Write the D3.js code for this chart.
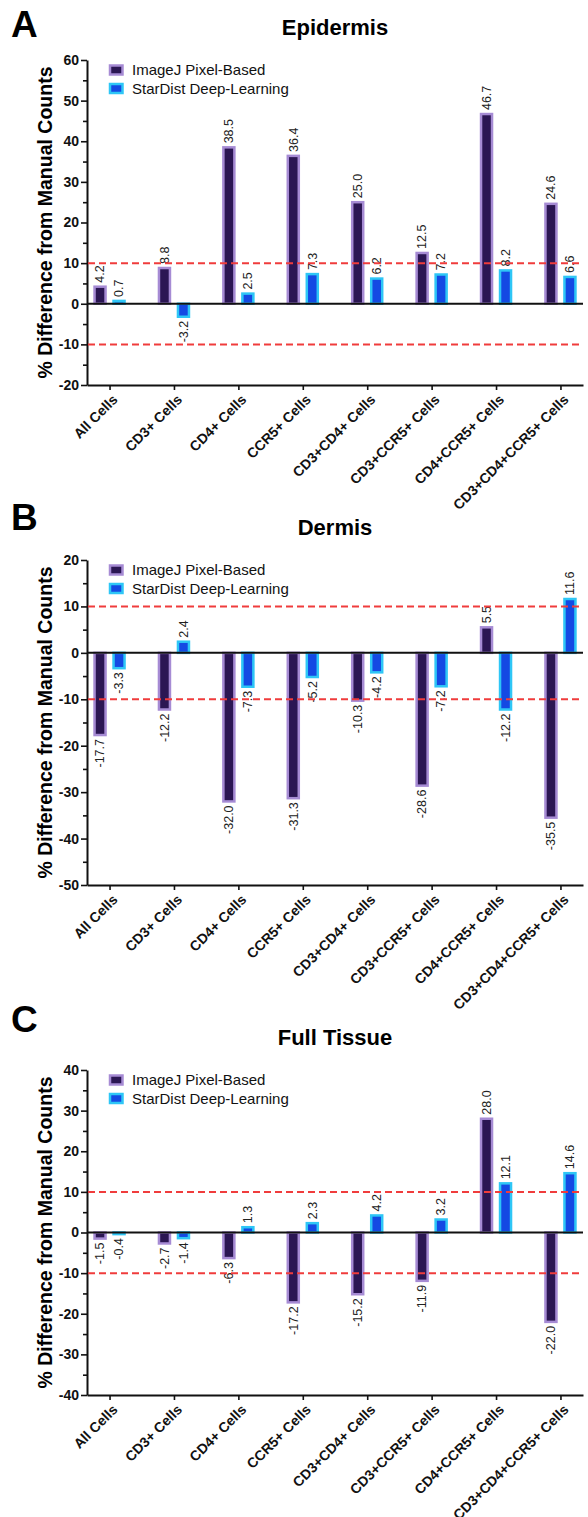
<!DOCTYPE html>
<html>
<head>
<meta charset="utf-8">
<script src="https://cdn.jsdelivr.net/npm/d3@7"></script>
<style>
	body { margin: 0; background: #fff; }
	svg { display: block; font-family: Arial, 'Liberation Sans', sans-serif; }
</style>
</head>
<body>
<div id="chart"></div>
<script>
const categories = ['All Cells', 'CD3+ Cells', 'CD4+ Cells', 'CCR5+ Cells', 'CD3+CD4+ Cells', 'CD3+CCR5+ Cells', 'CD4+CCR5+ Cells', 'CD3+CD4+CCR5+ Cells'];
const seriesNames = ['ImageJ Pixel-Based', 'StarDist Deep-Learning'];

const epidermisImageJ = [4.2, 8.8, 38.5, 36.4, 25.0, 12.5, 46.7, 24.6];
const epidermisStarDist = [0.7, -3.2, 2.5, 7.3, 6.2, 7.2, 8.2, 6.6];
const epidermisTicks = [-20, -10, 0, 10, 20, 30, 40, 50, 60];

const dermisImageJ = [-17.7, -12.2, -32.0, -31.3, -10.3, -28.6, 5.5, -35.5];
const dermisStarDist = [-3.3, 2.4, -7.3, -5.2, -4.2, -7.2, -12.2, 11.6];
const dermisTicks = [-50, -40, -30, -20, -10, 0, 10, 20];

const fullImageJ = [-1.5, -2.7, -6.3, -17.2, -15.2, -11.9, 28.0, -22.0];
const fullStarDist = [-0.4, -1.4, 1.3, 2.3, 4.2, 3.2, 12.1, 14.6];
const fullTicks = [-40, -30, -20, -10, 0, 10, 20, 30, 40];

const thresholds = [10, -10];

const COLORS = {
	fill: ['#2b1653', '#1449e3'],
	stroke: ['#a68bd4', '#2ec6f6'],
	red: '#f03c3c',
	text: '#111'
};
const LEFT = 87;
const RIGHT = 583;
const PLOT_H = 325;
const BAR_W = 11;
const BAR_OFF = 9.5;

var svg = d3.select('#chart').append('svg')
	.attr('width', 588)
	.attr('height', 1517);

svg.append('rect').attr('width', 588).attr('height', 1517).attr('fill', '#fff');

drawPanel({ letter: 'A', letterY: 37, title: 'Epidermis', top: 60, ticks: epidermisTicks, a: epidermisImageJ, b: epidermisStarDist });
drawPanel({ letter: 'B', letterY: 530, title: 'Dermis', top: 560, ticks: dermisTicks, a: dermisImageJ, b: dermisStarDist });
drawPanel({ letter: 'C', letterY: 1032, title: 'Full Tissue', top: 1070, ticks: fullTicks, a: fullImageJ, b: fullStarDist });

function drawPanel (p) {
	var g = svg.append('g');
	var top = p.top;
	var bottom = top + PLOT_H;
	var lo = d3.min(p.ticks), hi = d3.max(p.ticks);

	var y = d3.scaleLinear().domain([lo, hi]).range([bottom, top]);
	var x = d3.scalePoint().domain(categories).range([LEFT, RIGHT]).padding(0.35);

	g.append('text')
		.attr('x', 11)
		.attr('y', p.letterY)
		.attr('font-size', 37)
		.attr('font-weight', 'bold')
		.attr('fill', '#000')
		.text(p.letter);

	g.append('text')
		.attr('x', (LEFT + RIGHT) / 2)
		.attr('y', top - 25)
		.attr('text-anchor', 'middle')
		.attr('font-size', 22)
		.attr('font-weight', 'bold')
		.attr('fill', '#000')
		.text(p.title);

	g.append('text')
		.attr('transform', 'translate(52,' + (top + bottom) / 2 + ') rotate(-90)')
		.attr('text-anchor', 'middle')
		.attr('font-size', 19.5)
		.attr('font-weight', 'bold')
		.attr('fill', '#000')
		.text('% Difference from Manual Counts');

	// minor ticks every 5
	var minor = d3.range(lo + 5, hi, 10);
	g.append('g')
		.attr('transform', 'translate(' + LEFT + ',0)')
		.call(d3.axisLeft(y).tickValues(minor).tickSize(4).tickFormat(''))
		.call(function (s) { s.select('.domain').remove(); });

	var yAxis = g.append('g')
		.attr('transform', 'translate(' + LEFT + ',0)')
		.call(d3.axisLeft(y).tickValues(p.ticks).tickSize(6).tickSizeOuter(0).tickPadding(2).tickFormat(function (d) { return String(d); }));
	yAxis.selectAll('text').attr('font-size', 14).attr('font-weight', 'bold').attr('fill', COLORS.text).attr('font-family', null);

	var xAxis = g.append('g')
		.attr('transform', 'translate(0,' + bottom + ')')
		.call(d3.axisBottom(x).tickSize(5).tickSizeOuter(0));
	xAxis.selectAll('text')
		.attr('y', 0)
		.attr('dy', '0.35em')
		.attr('text-anchor', 'end')
		.attr('transform', 'translate(5,12) rotate(-45)')
		.attr('font-size', 14)
		.attr('font-weight', 'bold')
		.attr('fill', COLORS.text)
		.attr('font-family', null);

	g.selectAll('.domain, .tick line').attr('stroke', '#111').attr('stroke-width', 2);
	g.selectAll('.tick line').attr('stroke-width', 1.6);

	// bars
	[p.a, p.b].forEach(function (vals, si) {
		var off = si === 0 ? -BAR_OFF : BAR_OFF;
		g.append('g').selectAll('rect')
			.data(vals)
			.enter()
			.append('rect')
			.attr('x', function (d, i) { return x(categories[i]) + off - BAR_W / 2; })
			.attr('y', function (d) { return Math.min(y(d), y(0)); })
			.attr('width', BAR_W)
			.attr('height', function (d) { return Math.abs(y(d) - y(0)); })
			.attr('fill', COLORS.fill[si])
			.attr('stroke', COLORS.stroke[si])
			.attr('stroke-width', 2.5);

		g.append('g').selectAll('text')
			.data(vals)
			.enter()
			.append('text')
			.attr('transform', function (d, i) {
				var ty = d >= 0 ? y(d) - 4 : y(d) + 4;
				return 'translate(' + (x(categories[i]) + off) + ',' + ty + ') rotate(-90)';
			})
			.attr('text-anchor', function (d) { return d >= 0 ? 'start' : 'end'; })
			.attr('dy', '0.35em')
			.attr('font-size', 12.5)
			.attr('fill', '#222')
			.text(function (d) { return d.toFixed(1); });
	});

	// zero line
	g.append('line')
		.attr('x1', LEFT).attr('x2', RIGHT)
		.attr('y1', y(0)).attr('y2', y(0))
		.attr('stroke', '#111')
		.attr('stroke-width', 2);

	g.selectAll('.thresh')
		.data(thresholds)
		.enter()
		.append('line')
		.attr('x1', LEFT + 1).attr('x2', RIGHT)
		.attr('y1', function (d) { return y(d); })
		.attr('y2', function (d) { return y(d); })
		.attr('stroke', COLORS.red)
		.attr('stroke-width', 2)
		.attr('stroke-dasharray', '7,4');

	// legend
	var leg = g.append('g').selectAll('g')
		.data(seriesNames)
		.enter()
		.append('g')
		.attr('transform', function (d, i) { return 'translate(110,' + (top + 10 + i * 18.5) + ')'; });
	leg.append('rect')
		.attr('x', 0).attr('y', -4.5)
		.attr('width', 12.5).attr('height', 9)
		.attr('fill', function (d, i) { return COLORS.fill[i]; })
		.attr('stroke', function (d, i) { return COLORS.stroke[i]; })
		.attr('stroke-width', 2.5);
	leg.append('text')
		.attr('x', 22)
		.attr('dy', '0.35em')
		.attr('font-size', 15)
		.attr('fill', '#111')
		.text(function (d) { return d; });
}
</script>
</body>
</html>
